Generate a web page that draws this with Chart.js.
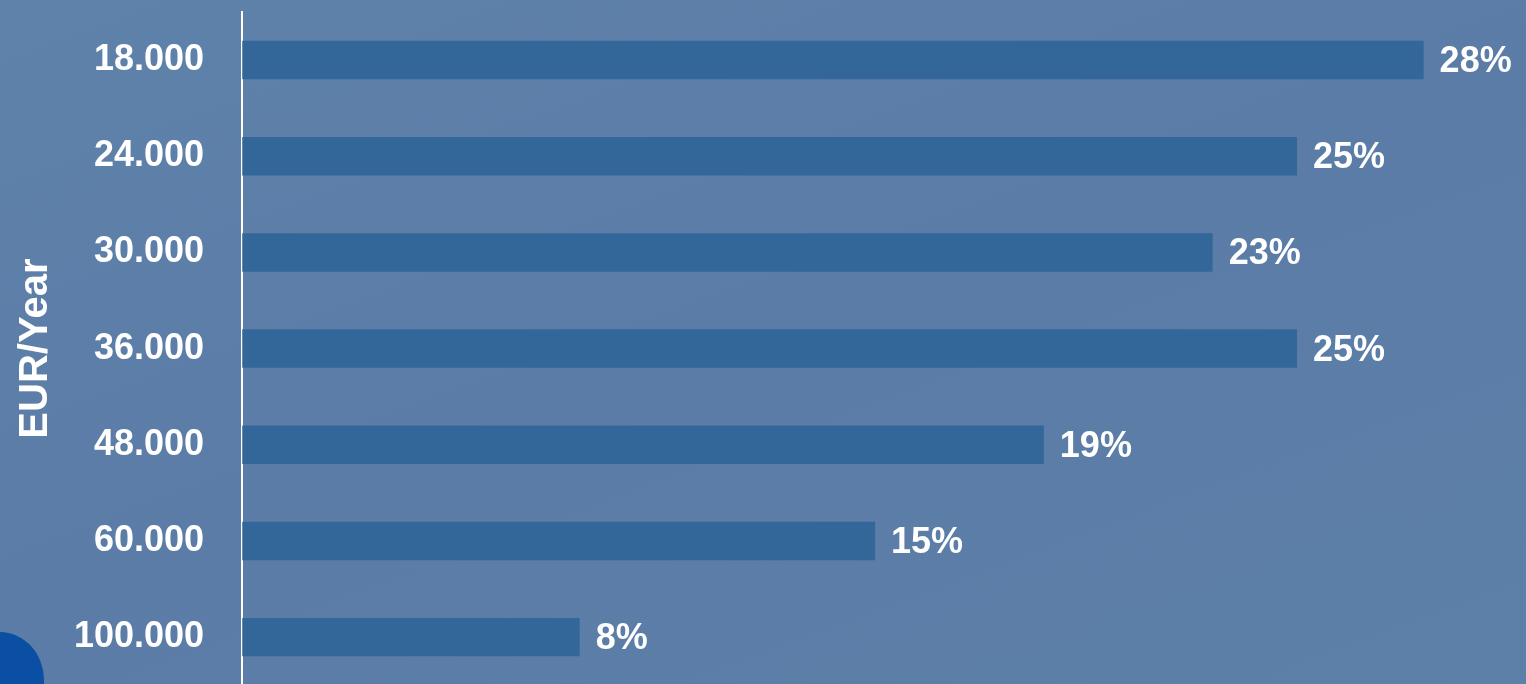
<!DOCTYPE html>
<html>
<head>
<meta charset="utf-8">
<script src="https://cdn.jsdelivr.net/npm/chart.js@4/dist/chart.umd.min.js"></script>
<style>
  html, body { margin: 0; padding: 0; }
  body {
    width: 1526px; height: 684px; overflow: hidden; position: relative;
    background: linear-gradient(160deg, #5f82ab 0%, #5a7ca6 50%, #5d80a9 100%);
  }
  /* un poco mas alto que la ventana: el eje sigue hasta el borde */
  #wrap { position: absolute; left: 0; top: 0; width: 1526px; height: 687px; }
  /* trozo de adorno azul en la esquina */
  #blob {
    position: absolute; left: -30px; top: 632px; width: 74px; height: 80px;
    background: #0a4fa3; border-radius: 40% 60% 30% 40%;
  }
</style>
</head>
<body>
<div id="blob"></div>
<div id="wrap"><canvas id="salaryChart"></canvas></div>
<script>
// datos
const incomes = ['18.000', '24.000', '30.000', '36.000', '48.000', '60.000', '100.000'];
const shares = [28, 25, 23, 25, 19, 15, 8];
const axisTitle = 'EUR/Year';

const FONT = '"Liberation Sans", Arial, sans-serif';

// etiquetas de porcentaje al final de cada barra
const valueLabels = {
  id: 'valueLabels',
  afterDatasetsDraw(chart) {
    const ctx = chart.ctx;
    const meta = chart.getDatasetMeta(0);
    ctx.save();
    ctx.fillStyle = '#ffffff';
    ctx.font = 'bold 36px ' + FONT;
    ctx.textAlign = 'left';
    ctx.textBaseline = 'middle';
    meta.data.forEach((bar, i) => {
      ctx.fillText(shares[i] + '%', bar.x + 16, bar.y + 2);
    });
    ctx.restore();
  }
};

const ctx = document.getElementById('salaryChart').getContext('2d');
new Chart(ctx, {
  type: 'bar',
  data: {
    labels: incomes,
    datasets: [{
      data: shares,
      backgroundColor: '#33679a',
      borderWidth: 0,
      barPercentage: 0.4,
      categoryPercentage: 1
    }]
  },
  options: {
    indexAxis: 'y',
    responsive: true,
    maintainAspectRatio: false,
    animation: false,
    layout: { padding: { top: 12, right: 18, bottom: 0, left: 0 } },
    plugins: {
      legend: { display: false },
      tooltip: { enabled: false }
    },
    scales: {
      x: { display: false, min: 0, max: 30 },
      y: {
        // marcas transparentes para separar etiquetas del eje
        grid: { display: true, drawOnChartArea: false, drawTicks: true, tickLength: 38, color: 'rgba(0,0,0,0)' },
        border: { display: true, color: '#ffffff', width: 2 },
        ticks: {
          color: '#ffffff',
          padding: 0,
          font: { family: FONT, size: 36, weight: 'bold', lineHeight: 0.1 }
        },
        title: {
          display: true,
          text: axisTitle,
          color: '#ffffff',
          padding: { top: 12, bottom: 14 },
          font: { family: FONT, size: 40, weight: 'bold' }
        }
      }
    }
  },
  plugins: [valueLabels]
});
</script>
</body>
</html>
